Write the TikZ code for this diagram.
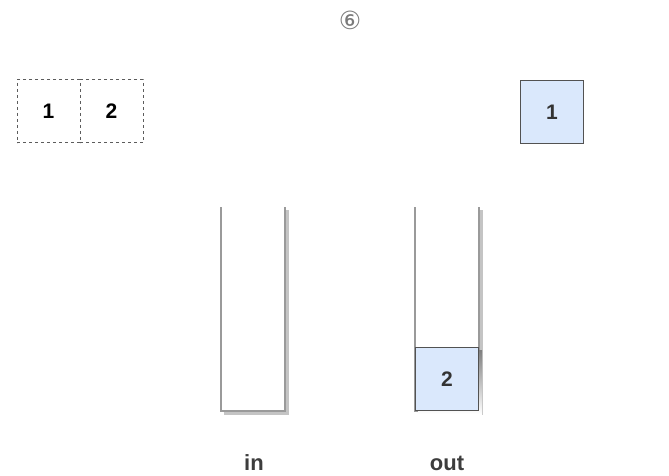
\documentclass[tikz,border=0pt]{standalone}
\usepackage{fontspec}
\setmainfont{Liberation Sans}
\newfontfamily\symfont{DejaVu Sans}
\definecolor{txt}{HTML}{333333}
\definecolor{boxfill}{HTML}{DAE8FC}
\definecolor{wall}{HTML}{9A9A9A}
\definecolor{shade}{HTML}{C4C4C4}
\begin{document}
\begin{tikzpicture}[x=1pt,y=-1pt,
  numtxt/.style={font=\bfseries\fontsize{21}{24}\selectfont, text=txt},
  dashbox/.style={draw=txt!80, dash pattern=on 3pt off 3pt, line width=1pt, minimum width=63pt, minimum height=63pt, inner sep=0pt, numtxt, text=black},
  bluebox/.style={draw=txt!85, fill=boxfill, line width=1.6pt, minimum width=63pt, minimum height=63pt, inner sep=0pt, numtxt},
  wallline/.style={draw=wall, line width=2pt},
  shadeline/.style={draw=shade, line width=3pt},
  lbl/.style={font=\bfseries\fontsize{22}{25}\selectfont, text=txt!95}
]
\useasboundingbox (0,0) rectangle (669,476);
\node[font=\symfont\fontsize{25}{28}\selectfont, text=txt!65] (step) at (350,20) {⑥};
% dashed pair
\node[dashbox] (d1) at (48.5,111.5) {1};
\node[dashbox] (d2) at (111.5,111.5) {2};
% box 1 top right
\node[bluebox] (b1) at (552,112) {1};
% in container
\coordinate (inTL) at (221,207);
\coordinate (inBL) at (221,411);
\coordinate (inBR) at (285,411);
\coordinate (inTR) at (285,207);
\draw[shadeline] ([shift={(2.5,2.5)}]inBL) -- ([shift={(2.5,2.5)}]inBR) -- ([shift={(2.5,2.5)}]inTR);
\draw[wallline] (inTL) -- (inBL) -- (inBR) -- (inTR);
% out container
\coordinate (outTL) at (415,207);
\coordinate (outBL) at (415,411);
\coordinate (outBR) at (479,411);
\coordinate (outTR) at (479,207);
\draw[shadeline] ([shift={(2.5,2.5)}]outBL) -- ([shift={(2.5,2.5)}]outBR) -- ([shift={(2.5,2.5)}]outTR);
\draw[wallline] (outTL) -- (outBL) -- (outBR) -- (outTR);
% box 2 in out
\fill[shade] (418,350) rectangle (482,414);
\node[bluebox] (b2) at (447,379) {2};
% labels
\node[lbl] (lin) at (254,463) {in};
\node[lbl] (lout) at (447,463) {out};
\end{tikzpicture}
\end{document}
